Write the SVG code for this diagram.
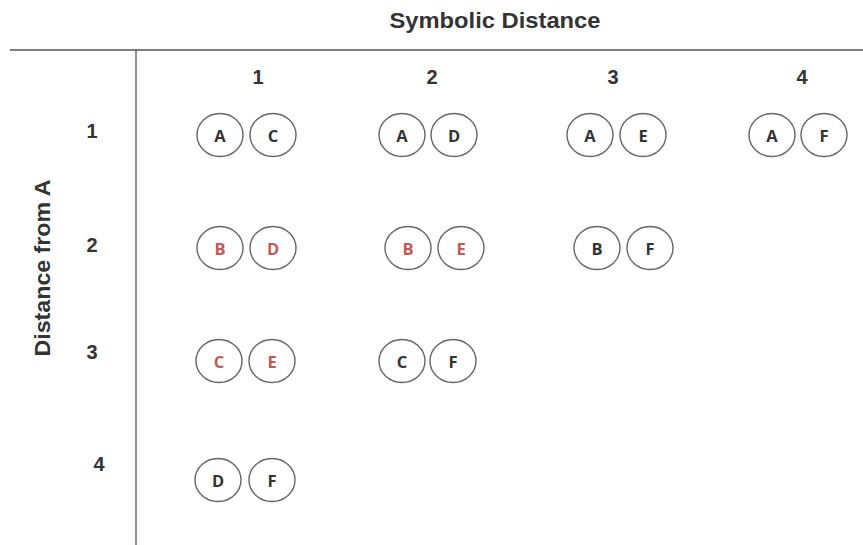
<svg xmlns="http://www.w3.org/2000/svg" width="863" height="545" viewBox="0 0 863 545">
<style>
.axis{stroke:#555;stroke-width:1.3;fill:none}
.hdr{font-family:"Liberation Sans",Arial,sans-serif;font-weight:bold;fill:#333;text-anchor:middle}
.num{font-size:20px}
.node ellipse{fill:#fff;stroke:#666;stroke-width:1.4}
.node text{font-family:"Open Sans","DejaVu Sans",sans-serif;font-weight:bold;font-size:16.5px;fill:#333;text-anchor:middle;dominant-baseline:central}
.node.red text{fill:#c0585a}
</style>
<rect width="863" height="545" fill="#fff"/>
<g id="axes">
<line class="axis" x1="10" y1="50" x2="863" y2="50"/>
<line class="axis" x1="136" y1="50" x2="136" y2="545"/>
</g>
<g id="labels">
<text class="hdr" x="495" y="28" font-size="22.5" textLength="211" lengthAdjust="spacingAndGlyphs">Symbolic Distance</text>
<text class="hdr" transform="translate(50,268) rotate(-90)" font-size="22.5" textLength="177" lengthAdjust="spacingAndGlyphs">Distance from A</text>
<text class="hdr num" x="258" y="84">1</text>
<text class="hdr num" x="432" y="84">2</text>
<text class="hdr num" x="613" y="84">3</text>
<text class="hdr num" x="802" y="84">4</text>
<text class="hdr num" x="92" y="138">1</text>
<text class="hdr num" x="92" y="252">2</text>
<text class="hdr num" x="92" y="359">3</text>
<text class="hdr num" x="99" y="471">4</text>
</g>
<g id="r1c1" class="node"><ellipse cx="220" cy="135" rx="23" ry="21.5"/><text x="220" y="135">A</text><ellipse cx="273" cy="135" rx="23" ry="21.5"/><text x="273" y="135">C</text></g>
<g id="r1c2" class="node"><ellipse cx="402" cy="135" rx="23" ry="21.5"/><text x="402" y="135">A</text><ellipse cx="454" cy="135" rx="23" ry="21.5"/><text x="454" y="135">D</text></g>
<g id="r1c3" class="node"><ellipse cx="590" cy="135" rx="23" ry="21.5"/><text x="590" y="135">A</text><ellipse cx="643" cy="135" rx="23" ry="21.5"/><text x="643" y="135">E</text></g>
<g id="r1c4" class="node"><ellipse cx="772" cy="135" rx="23" ry="21.5"/><text x="772" y="135">A</text><ellipse cx="824" cy="135" rx="23" ry="21.5"/><text x="824" y="135">F</text></g>
<g id="r2c1" class="node red"><ellipse cx="220" cy="248" rx="23" ry="21.5"/><text x="220" y="248">B</text><ellipse cx="273" cy="248" rx="23" ry="21.5"/><text x="273" y="248">D</text></g>
<g id="r2c2" class="node red"><ellipse cx="408" cy="248" rx="23" ry="21.5"/><text x="408" y="248">B</text><ellipse cx="461" cy="248" rx="23" ry="21.5"/><text x="461" y="248">E</text></g>
<g id="r2c3" class="node"><ellipse cx="597" cy="248" rx="23" ry="21.5"/><text x="597" y="248">B</text><ellipse cx="650" cy="248" rx="23" ry="21.5"/><text x="650" y="248">F</text></g>
<g id="r3c1" class="node red"><ellipse cx="219" cy="361" rx="23" ry="21.5"/><text x="219" y="361">C</text><ellipse cx="272" cy="361" rx="23" ry="21.5"/><text x="272" y="361">E</text></g>
<g id="r3c2" class="node"><ellipse cx="402" cy="361" rx="23" ry="21.5"/><text x="402" y="361">C</text><ellipse cx="453" cy="361" rx="23" ry="21.5"/><text x="453" y="361">F</text></g>
<g id="r4c1" class="node"><ellipse cx="218" cy="480" rx="23" ry="21.5"/><text x="218" y="480">D</text><ellipse cx="272" cy="480" rx="23" ry="21.5"/><text x="272" y="480">F</text></g>
</svg>
